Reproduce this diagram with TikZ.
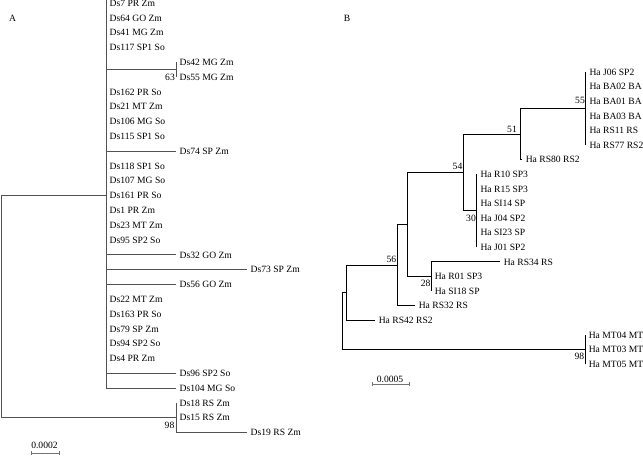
\documentclass[tikz,border=0pt]{standalone}
\usepackage{fontspec}
\setmainfont{Liberation Serif}
\begin{document}
\begin{tikzpicture}[x=1pt,y=-1pt,
  lab/.style={inner sep=0pt,text height=6.5pt,text depth=0pt,font=\fontsize{9.6}{11}\selectfont},
  leaf/.style={lab,anchor=west},
  boot/.style={lab,anchor=east},
  treeA/.style={draw=black!68,line width=0.75pt},
  treeB/.style={draw=black,line width=0.95pt},
  scalebar/.style={draw=black!55,line width=0.6pt}]
\useasboundingbox (0,0) rectangle (643,458);
% ---------------- Tree A ----------------
\node[lab] (labA) at (12.7,18.3) {A};
\foreach \i/\t/\x in {0/Ds7 PR Zm/106,1/Ds64 GO Zm/106,2/Ds41 MG Zm/106,3/Ds117 SP1 So/106,
  4/Ds42 MG Zm/176,5/Ds55 MG Zm/176,6/Ds162 PR So/106,7/Ds21 MT Zm/106,8/Ds106 MG So/106,
  9/Ds115 SP1 So/106,10/Ds74 SP Zm/176,11/Ds118 SP1 So/106,12/Ds107 MG So/106,13/Ds161 PR So/106,
  14/Ds1 PR Zm/106,15/Ds23 MT Zm/106,16/Ds95 SP2 So/106,17/Ds32 GO Zm/176,18/Ds73 SP Zm/247,
  19/Ds56 GO Zm/176,20/Ds22 MT Zm/106,21/Ds163 PR So/106,22/Ds79 SP Zm/106,23/Ds94 SP2 So/106,
  24/Ds4 PR Zm/106,25/Ds96 SP2 So/176,26/Ds104 MG So/176,27/Ds18 RS Zm/176,28/Ds15 RS Zm/176,
  29/Ds19 RS Zm/247}{
  \coordinate (ta\i) at (\x,{3+14.81*\i});
  \node[leaf] (a\i) at ([xshift=3.5pt]ta\i) {\t};
}
\coordinate (topA) at (106,0);
\coordinate (c63) at (176,69.65);
\coordinate (rootA) at (1,306.6);
\coordinate (c98A) at (176,417.68);
\draw[treeA] (topA) -- (ta26 -| topA);
\draw[treeA] (ta4) -- (ta5);
\draw[treeA] (c63 -| topA) -- (c63);
\foreach \i in {10,17,18,19,25,26}{\draw[treeA] (ta\i -| topA) -- (ta\i);}
\draw[treeA] (ta27) -- (ta29 -| ta27) -- (ta29);
\draw[treeA] (ta13) -| (rootA);
\draw[treeA] (c98A) -| (rootA);
\node[boot] (b63) at (175,77.5) {63};
\node[boot] (b98A) at (174.5,425) {98};
\coordinate (sA1) at (31,453);
\coordinate (sA2) at (59.3,453);
\draw[scalebar] (sA1) -- (sA2);
\draw[scalebar] ([yshift=-2.3pt]sA1) -- ([yshift=2.3pt]sA1);
\draw[scalebar] ([yshift=-2.3pt]sA2) -- ([yshift=2.3pt]sA2);
\node[lab] (scA) at (44.5,445.3) {0.0002};
% ---------------- Tree B ----------------
\node[lab] (labB) at (347,18.3) {B};
\foreach \i/\t/\x in {0/Ha J06 SP2/585.7,1/Ha BA02 BA/585.7,2/Ha BA01 BA/585.7,3/Ha BA03 BA/585.7,
  4/Ha RS11 RS/585.7,5/Ha RS77 RS2/585.7,6/Ha RS80 RS2/522,7/Ha R10 SP3/476.7,8/Ha R15 SP3/476.7,
  9/Ha SI14 SP/476.7,10/Ha J04 SP2/476.7,11/Ha SI23 SP/476.7,12/Ha J01 SP2/476.7,13/Ha RS34 RS/500,
  14/Ha R01 SP3/431,15/Ha SI18 SP/431,16/Ha RS32 RS/415,17/Ha RS42 RS2/375,18/Ha MT04 MT/585,
  19/Ha MT03 MT/585,20/Ha MT05 MT/585}{
  \coordinate (tb\i) at (\x,{72+14.6*\i});
  \node[leaf] (h\i) at ([xshift=3.6pt]tb\i) {\t};
}
\coordinate (c55) at (585.7,108.5);
\coordinate (n51) at (520,134.05);
\coordinate (c30) at (476.7,210.7);
\coordinate (n54) at (463.3,172.4);
\coordinate (nx) at (407.3,224.4);
\coordinate (n56) at (397.3,265);
\coordinate (ny) at (346.7,292.6);
\coordinate (rootB) at (342.3,321);
\draw[treeB] (tb0) -- (tb5);
\draw[treeB] (tb7) -- (tb12);
\draw[treeB] (tb13) -- (tb13 -| tb14) -- (tb15);
\draw[treeB] (tb18) -- (tb20);
\draw[treeB] (c55) -| (n51);
\draw[treeB] (tb6) -| (n51);
\draw[treeB] (n51) -| (n54);
\draw[treeB] (c30) -| (n54);
\draw[treeB] (n54) -| (nx);
\draw[treeB] (tb14) -| (nx);
\draw[treeB] (nx) -| (n56);
\draw[treeB] (tb16) -| (n56);
\draw[treeB] (n56) -| (ny);
\draw[treeB] (tb17) -| (ny);
\draw[treeB] (ny) -| (rootB);
\draw[treeB] (tb19) -| (rootB);
\node[boot] (b55) at (585,100) {55};
\node[boot] (b51) at (517,128.8) {51};
\node[boot] (b54) at (462.5,166.6) {54};
\node[boot] (b30) at (476,218) {30};
\node[boot] (b28) at (430.7,283.4) {28};
\node[boot] (b56) at (396.3,259.4) {56};
\node[boot] (b98B) at (584.3,356.4) {98};
\coordinate (sB1) at (372.3,384);
\coordinate (sB2) at (409.3,384);
\draw[scalebar] (sB1) -- (sB2);
\draw[scalebar] ([yshift=-2.3pt]sB1) -- ([yshift=2.3pt]sB1);
\draw[scalebar] ([yshift=-2.3pt]sB2) -- ([yshift=2.3pt]sB2);
\node[lab] (scB) at (390,379) {0.0005};
\end{tikzpicture}
\end{document}
